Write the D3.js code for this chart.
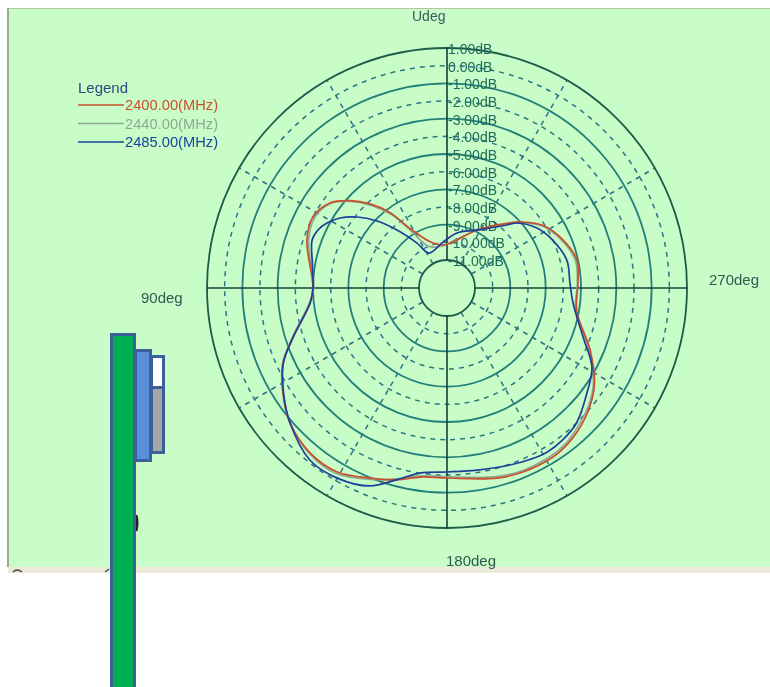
<!DOCTYPE html>
<html>
<head>
<meta charset="UTF-8"/>
<script src="https://d3js.org/d3.v7.min.js"></script>
<title>Polar plot</title>
<style>
html,body{margin:0;padding:0;background:#fff;}
svg{display:block;}
text{font-family:"Liberation Sans",Arial,sans-serif;}
</style>
</head>
<body>
<svg id="plot" width="770" height="687"></svg>
<script>
'use strict';
var levels = [1,0,-1,-2,-3,-4,-5,-6,-7,-8,-9,-10,-11];
var levelLabels = ['1.00dB','0.00dB','-1.00dB','-2.00dB','-3.00dB','-4.00dB','-5.00dB','-6.00dB','-7.00dB','-8.00dB','-9.00dB','-10.00dB','-11.00dB'];
var spokeAngles = [30,60,120,150,210,240,300,330];
var axisAngles = [0,90,180,270];
var axisLabels = ['Udeg','90deg','180deg','270deg'];
var freqLabels = ['2400.00(MHz)','2440.00(MHz)','2485.00(MHz)'];
var freqColors = ['#c8502c','#8fa896','#1f3f9a'];

// [angle, dB]
var trace2400 = [[90,-5.0],[71,-4.2],[62,-4.0],[54,-4.4],[48,-5.2],[42.5,-6.13],[37,-7.25],[32,-8.6],[20,-9.8],[5,-10.14],
  [348,-9.8],[333,-8.9],[317,-7.58],[311,-6.89],[303,-6.09],[292.5,-5.48],[282,-5.06],[272,-5.17],[260,-5.13],[246.6,-3.76],
  [237,-2.63],[230,-2.06],[222.5,-1.62],[217,-1.4],[212,-1.29],[202.4,-1.32],[194.7,-1.46],[180,-1.83],[172,-1.78],[165.4,-1.36],[158,-0.98],
  [149,-0.45],[140.3,-0.45],[130.7,-0.87],[122.6,-1.57],[114.6,-2.38],[107.7,-3.44],[96.2,-4.79]];
var trace2440 = [[90,-5.05],[71,-4.3],[62,-4.1],[54,-4.45],[48,-5.25],[42.5,-6.25],[37,-7.4],[32,-8.8],[24,-10.0],[8,-10.2],
  [348,-9.75],[333,-8.95],[317,-7.6],[311,-6.95],[303,-6.15],[292.5,-5.55],[282,-5.15],[272,-5.2],[260,-5.2],[246.6,-3.85],
  [237,-2.7],[230,-2.15],[222.5,-1.75],[217,-1.5],[212,-1.4],[202.4,-1.4],[194.7,-1.55],[180,-1.9],[172,-1.85],[165.4,-1.42],[158,-0.9],
  [149,-0.35],[140.3,-0.4],[130.7,-0.85],[122.6,-1.55],[114.6,-2.35],[107.7,-3.4],[96.2,-4.75]];
var trace2485 = [[90,-5.0],[80,-4.85],[70.4,-4.48],[65.8,-4.58],[61.6,-4.86],[56.8,-5.35],[51.7,-6.1],[46.3,-7.1],[40.8,-8.25],[33.7,-9.53],[27.2,-10.36],[5,-9.98],
  [349.7,-9.42],[332.7,-8.9],[316.4,-7.66],[312.9,-7.18],[303.7,-6.47],[294.4,-6.02],[283,-5.62],[272.3,-5.62],[263.2,-5.4],[250.2,-4.4],
  [241.4,-3.24],[233.1,-2.68],[223.9,-2.0],[217.3,-1.78],[211.2,-1.7],[205.8,-1.8],[199.6,-1.95],[189.4,-2.14],[180,-2.17],[171.7,-2.0],[165.4,-1.38],[158.7,-0.56],
  [150,-0.16],[141.5,-0.13],[130.7,-0.87],[122.6,-1.6],[114.6,-2.4],[107.7,-3.45],[96.2,-4.8]];
var traces = [trace2400,trace2440,trace2485];

var cx = 447, cy = 288;
var r = d3.scaleLinear().domain([-11,1]).range([28,240]);
// 0deg on top, angle runs counter clockwise
var a = d3.scaleLinear().domain([0,360]).range([0,-2*Math.PI]);

var svg = d3.select('#plot');

var defs = svg.append('defs');
defs.append('filter').attr('id','soft').attr('x','-5%').attr('y','-5%').attr('width','110%').attr('height','110%')
    .append('feGaussianBlur').attr('stdDeviation',0.55);

// window background
var win = svg.append('g').attr('filter','url(#soft)');
win.append('rect').attr('x',8).attr('y',8).attr('width',762).attr('height',559).attr('fill','#c9fdc8');
win.append('line').attr('x1',8).attr('x2',770).attr('y1',8.5).attr('y2',8.5).attr('stroke','#b4c4a4');
win.append('line').attr('x1',8).attr('x2',8).attr('y1',8).attr('y2',567).attr('stroke','#98b08a').attr('stroke-width',2);
win.append('rect').attr('x',8).attr('y',567).attr('width',762).attr('height',6).attr('fill','#ece9d8');
win.append('path').attr('d','M13,572q4,-4 9,0M105,572l4,-3').attr('fill','none').attr('stroke','#444').attr('stroke-width',1.2);

var plot = win.append('g').attr('transform','translate('+cx+','+cy+')');

function px(ang, rad){ return [rad*Math.sin(a(ang)), -rad*Math.cos(a(ang))]; }

plot.selectAll('.spoke').data(spokeAngles).enter().append('line')
    .attr('class','spoke')
    .attr('x1',function(d){return px(d,r(-11))[0];})
    .attr('y1',function(d){return px(d,r(-11))[1];})
    .attr('x2',function(d){return px(d,r(1))[0];})
    .attr('y2',function(d){return px(d,r(1))[1];})
    .attr('stroke','#2a7684').attr('stroke-width',1.5).attr('stroke-dasharray','5,5');

plot.selectAll('.ring').data(levels).enter().append('circle')
    .attr('class','ring')
    .attr('r',function(d){return r(d);})
    .attr('fill','none')
    .attr('stroke',function(d){return d==1||d==-11 ? '#1a5c48' : (d%2 ? '#24807a' : '#2a7684');})
    .attr('stroke-width',function(d){return d%2 ? 1.8 : 1.5;})
    .attr('stroke-dasharray',function(d){return d%2 ? null : '5,5';});

plot.selectAll('.axis').data(axisAngles).enter().append('line')
    .attr('class','axis')
    .attr('x1',function(d){return px(d,r(-11))[0];})
    .attr('y1',function(d){return px(d,r(-11))[1];})
    .attr('x2',function(d){return px(d,r(1))[0];})
    .attr('y2',function(d){return px(d,r(1))[1];})
    .attr('stroke','#163f36').attr('stroke-width',1.6);

plot.selectAll('.lvl').data(levels).enter().append('text')
    .attr('class','lvl')
    .attr('x',1)
    .attr('y',function(d){return -r(d)+6;})
    .attr('font-size',14)
    .attr('fill','#1f6a5c')
    .text(function(d,i){return levelLabels[i];});

var line = d3.lineRadial()
    .angle(function(d){return a(d[0]);})
    .radius(function(d){return r(d[1]);})
    .curve(d3.curveCatmullRomClosed);

var order = [1,0,2];
order.forEach(function(i){
    plot.append('path')
        .attr('d',line(traces[i]))
        .attr('fill','none')
        .attr('stroke',freqColors[i])
        .attr('stroke-width',1.7);
});

// angle labels
win.append('text').attr('x',412).attr('y',21).attr('font-size',14).attr('fill','#3a5a5a').text(axisLabels[0]);
win.append('text').attr('x',141).attr('y',303).attr('font-size',15).attr('fill','#2f5a50').text(axisLabels[1]);
win.append('text').attr('x',446).attr('y',566).attr('font-size',15).attr('fill','#2f5a50').text(axisLabels[2]);
win.append('text').attr('x',709).attr('y',285).attr('font-size',15).attr('fill','#2f5a50').text(axisLabels[3]);

// legend
win.append('text').attr('x',78).attr('y',93).attr('font-size',15).attr('fill','#2a4a80').text('Legend');
var legendY = d3.scalePoint().domain(freqLabels).range([105,142]);
var legend = win.selectAll('.leg').data(freqLabels).enter().append('g').attr('class','leg');
legend.append('line')
    .attr('x1',78).attr('x2',124)
    .attr('y1',function(d){return legendY(d);})
    .attr('y2',function(d){return legendY(d);})
    .attr('stroke',function(d,i){return freqColors[i];}).attr('stroke-width',1.5);
legend.append('text')
    .attr('x',125)
    .attr('y',function(d){return legendY(d)+5;})
    .attr('font-size',14.7)
    .attr('fill',function(d,i){return freqColors[i];})
    .text(function(d){return d;});

// board side view drawn over the screenshot
var board = svg.append('g').attr('stroke','#3a5f9a').attr('stroke-width',3);
board.append('path').attr('d','M136,515q2,8 0,16').attr('stroke','#222').attr('fill','none');
board.append('rect').attr('x',151.5).attr('y',356.5).attr('width',12).attr('height',31).attr('fill','#fff');
board.append('rect').attr('x',151.5).attr('y',387.5).attr('width',12).attr('height',65).attr('fill','#a6a6a6');
board.append('rect').attr('x',135.5).attr('y',350.5).attr('width',15).attr('height',110).attr('fill','#588fd8');
board.append('rect').attr('x',111.5).attr('y',334.5).attr('width',23).attr('height',360).attr('fill','#00b050');
</script>
</body>
</html>
